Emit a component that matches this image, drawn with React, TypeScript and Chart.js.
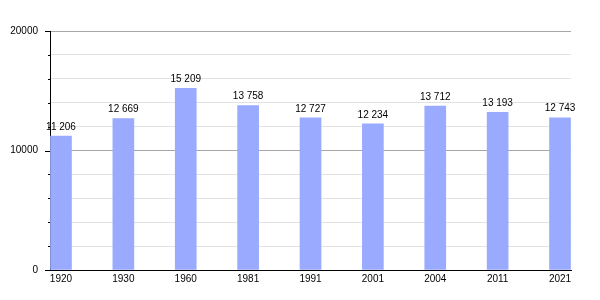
import React, { useEffect, useRef } from "react";
import { Chart, registerables } from "chart.js";

Chart.register(...registerables);

const years = ["1920", "1930", "1960", "1981", "1991", "2001", "2004", "2011", "2021"];
const population = [11206, 12669, 15209, 13758, 12727, 12234, 13712, 13193, 12743];
const yTickStep = 2000;
const yMajorStep = 10000;
const yMax = 20000;

const FONT = "Liberation Sans, Arial, sans-serif";

function fmt(v: number): string {
  return String(v).replace(/\B(?=(\d{3})+(?!\d))/g, " ");
}

const valueLabels = {
  id: "valueLabels",
  afterDatasetsDraw(chart: any) {
    const ctx = chart.ctx;
    const meta = chart.getDatasetMeta(0);
    ctx.save();
    ctx.font = `10px ${FONT}`;
    ctx.fillStyle = "#000";
    ctx.textAlign = "center";
    ctx.textBaseline = "bottom";
    meta.data.forEach((el: any, i: number) => {
      ctx.fillText(fmt(population[i]), el.x, el.y - 4);
    });
    ctx.restore();
  },
};

const yTickMarks = {
  id: "yTickMarks",
  afterDraw(chart: any) {
    const ctx = chart.ctx;
    const y = chart.scales.y;
    const left = chart.chartArea.left;
    ctx.save();
    ctx.strokeStyle = "#000";
    ctx.lineWidth = 1;
    y.ticks.forEach((t: any) => {
      const py = Math.round(y.getPixelForValue(t.value)) + 0.5;
      const major = t.value % yMajorStep === 0;
      ctx.beginPath();
      ctx.moveTo(left - (major ? 5 : 2), py);
      ctx.lineTo(left, py);
      ctx.stroke();
    });
    ctx.restore();
  },
};

export default function App() {
  const ref = useRef<HTMLCanvasElement | null>(null);

  useEffect(() => {
    if (!ref.current) return;
    const chart = new Chart(ref.current, {
      type: "bar",
      data: {
        datasets: [
          {
            data: population.map((v, i) => ({ x: i, y: v })),
            backgroundColor: "rgb(153,170,255)",
            borderWidth: 0,
            barThickness: 21,
          },
        ],
      },
      options: {
        responsive: false,
        animation: false,
        layout: { padding: { top: 31, right: 29, left: 0, bottom: 0 } },
        plugins: { legend: { display: false }, tooltip: { enabled: false } },
        scales: {
          x: {
            type: "linear",
            offset: false,
            min: -0.176,
            max: 8.176,
            afterBuildTicks: (scale: any) => {
              scale.ticks = years.map((_, i) => ({ value: i }));
            },
            afterFit: (scale: any) => {
              scale.height = 30;
            },
            grid: { display: false, drawTicks: false },
            border: { display: true, color: "#000", width: 1 },
            ticks: {
              autoSkip: false,
              maxRotation: 0,
              padding: 3,
              color: "#000",
              font: { family: FONT, size: 10 },
              callback: (v: any) => years[v as number] ?? "",
            },
          },
          y: {
            min: 0,
            max: yMax,
            afterFit: (scale: any) => {
              scale.width = 50;
            },
            grid: {
              drawTicks: false,
              color: (c: any) =>
                c.tick && c.tick.value % yMajorStep === 0 ? "#a6a6a6" : "#e2e2e2",
            },
            border: { display: true, color: "#000", width: 1 },
            ticks: {
              stepSize: yTickStep,
              padding: 12,
              color: "#000",
              font: { family: FONT, size: 10 },
              callback: (v: any) => ((v as number) % yMajorStep === 0 ? String(v) : ""),
            },
          },
        },
      },
      plugins: [valueLabels, yTickMarks],
    });
    return () => chart.destroy();
  }, []);

  return (
    <div style={{ position: "absolute", left: 0, top: 0, width: 600, height: 300, background: "#fff" }}>
      <canvas ref={ref} width={600} height={300} />
    </div>
  );
}
